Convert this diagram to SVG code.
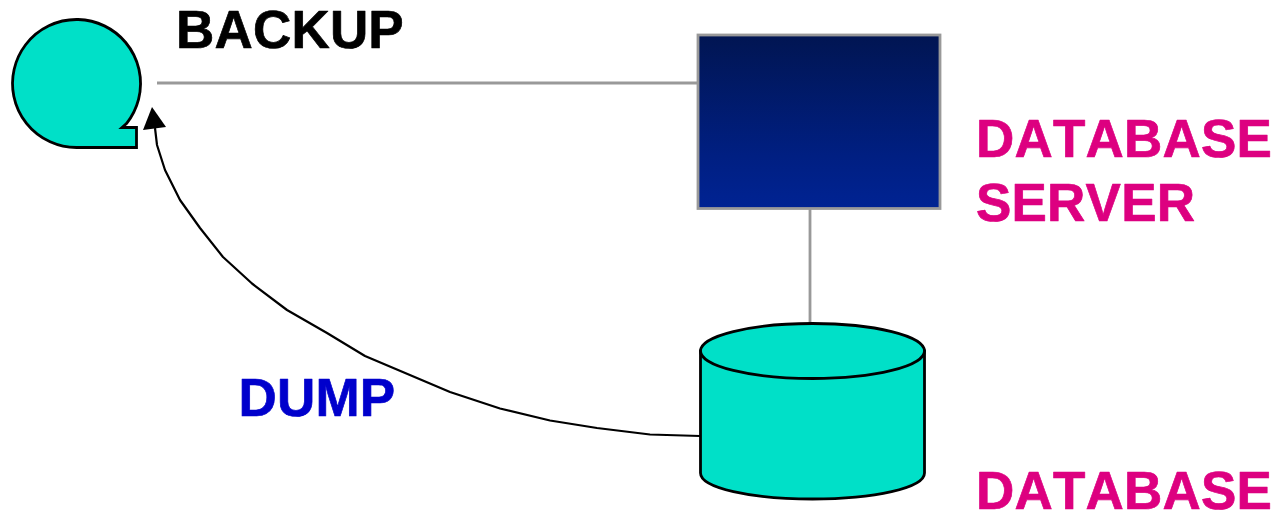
<svg xmlns="http://www.w3.org/2000/svg" width="1277" height="513" viewBox="0 0 1277 513">
<defs>
<linearGradient id="g" x1="0" y1="0" x2="0" y2="1"><stop offset="0" stop-color="#011552"/><stop offset="0.7" stop-color="#001f82"/><stop offset="1" stop-color="#002393"/></linearGradient>
</defs>
<style>
.l{font-family:"Liberation Sans",Arial,sans-serif;font-weight:700;font-size:53px;font-kerning:none;stroke-width:0.7px;stroke-linejoin:round;letter-spacing:0.2px}
.t{fill:#00e0c8;stroke:#000;stroke-width:2.8;stroke-linejoin:miter}
.c{fill:none;stroke:#999;stroke-width:2.8}
.m{fill:#dd0080;stroke:#dd0080}
.b{fill:#0000cc;stroke:#0000cc}
.k{fill:#000;stroke:#000}
</style>
<rect width="1277" height="513" fill="#fff"/>
<g id="connectors">
<path class="c" d="M157 83H698"/>
<path class="c" d="M810 208V325"/>
<path fill="none" stroke="#000" stroke-width="2.200" stroke-linejoin="round" d="M700 436L650 434.500L597 428L550 420.500L500 408.500L450 392L365 356L327 333L287 310L252 283.500L223 257L200 228L180 200L165 170L157 145L155 128"/>
<polygon points="152,107 166,127 143,130" fill="#000"/>
</g>
<g id="backup">
<path class="t" d="M136.500 127.500H122L126.500 123.500A64 64 0 1 0 76.500 147.500H136.500Z"/>
<text class="l k" x="176" y="48">BACKUP</text>
</g>
<g id="server">
<rect x="698" y="35" width="242" height="173.500" fill="url(#g)" stroke="#999" stroke-width="2.800"/>
<text class="l m" x="976" y="157">DATABASE</text>
<text class="l m" x="976" y="221">SERVER</text>
</g>
<g id="database">
<path class="t" d="M700.500 351V473C700.500 488 751 499 812.500 499S924.500 488 924.500 473V351Z"/>
<ellipse class="t" cx="812.500" cy="351" rx="112" ry="27.500"/>
<text class="l m" x="976" y="509">DATABASE</text>
</g>
<g id="dump">
<text class="l b" x="238.500" y="416">DUMP</text>
</g>
</svg>
